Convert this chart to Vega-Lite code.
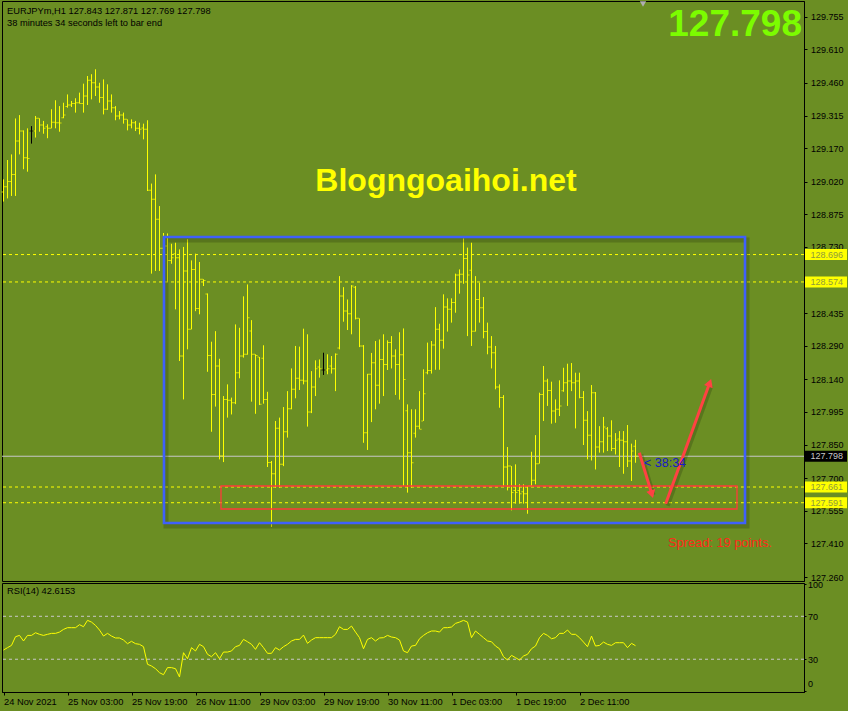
{
  "$schema": "https://vega.github.io/schema/vega-lite/v6.json",
  "background": "#6B8E23",
  "padding": {"left": 0, "top": 0, "right": 0, "bottom": 4},
  "spacing": 2,
  "bounds": "flush",
  "config": {
    "view": {"stroke": "#000000", "strokeWidth": 1, "fill": "#6B8E23"},
    "font": "Liberation Sans",
    "axis": {"grid": false, "domainColor": "#000000", "tickColor": "#000000", "labelColor": "#000000", "labelFont": "Liberation Sans", "titleColor": "#000000", "labelOverlap": false}
  },
  "datasets": {
    "bars": [
      {"i":0,"o":128.975,"h":129.031,"l":128.932,"c":128.998},
      {"i":1,"o":128.998,"h":129.117,"l":128.946,"c":129.021},
      {"i":2,"o":129.021,"h":129.142,"l":128.957,"c":129.053},
      {"i":3,"o":129.053,"h":129.302,"l":128.957,"c":129.202},
      {"i":4,"o":129.202,"h":129.317,"l":129.142,"c":129.246},
      {"i":5,"o":129.246,"h":129.249,"l":129.076,"c":129.127},
      {"i":6,"o":129.127,"h":129.258,"l":129.065,"c":129.124},
      {"i":7,"o":129.246,"h":129.268,"l":129.19,"c":129.246},
      {"i":8,"o":129.246,"h":129.313,"l":129.217,"c":129.303},
      {"i":9,"o":129.303,"h":129.303,"l":129.243,"c":129.273},
      {"i":10,"o":129.273,"h":129.291,"l":129.234,"c":129.258},
      {"i":11,"o":129.265,"h":129.276,"l":129.214,"c":129.258},
      {"i":12,"o":129.258,"h":129.343,"l":129.258,"c":129.285},
      {"i":13,"o":129.285,"h":129.383,"l":129.258,"c":129.283},
      {"i":14,"o":129.283,"h":129.357,"l":129.243,"c":129.282},
      {"i":15,"o":129.305,"h":129.372,"l":129.303,"c":129.317},
      {"i":16,"o":129.355,"h":129.409,"l":129.35,"c":129.362},
      {"i":17,"o":129.362,"h":129.38,"l":129.353,"c":129.369},
      {"i":18,"o":129.369,"h":129.392,"l":129.328,"c":129.372},
      {"i":19,"o":129.372,"h":129.417,"l":129.368,"c":129.369},
      {"i":20,"o":129.369,"h":129.457,"l":129.328,"c":129.402},
      {"i":21,"o":129.402,"h":129.491,"l":129.362,"c":129.472},
      {"i":22,"o":129.472,"h":129.499,"l":129.387,"c":129.461},
      {"i":23,"o":129.461,"h":129.521,"l":129.402,"c":129.442},
      {"i":24,"o":129.442,"h":129.461,"l":129.372,"c":129.395},
      {"i":25,"o":129.395,"h":129.476,"l":129.32,"c":129.343},
      {"i":26,"o":129.343,"h":129.454,"l":129.34,"c":129.38},
      {"i":27,"o":129.38,"h":129.409,"l":129.328,"c":129.35},
      {"i":28,"o":129.35,"h":129.357,"l":129.294,"c":129.313},
      {"i":29,"o":129.313,"h":129.335,"l":129.298,"c":129.317},
      {"i":30,"o":129.317,"h":129.328,"l":129.279,"c":129.298},
      {"i":31,"o":129.298,"h":129.298,"l":129.249,"c":129.273},
      {"i":32,"o":129.273,"h":129.298,"l":129.258,"c":129.283},
      {"i":33,"o":129.283,"h":129.291,"l":129.246,"c":129.258},
      {"i":34,"o":129.258,"h":129.283,"l":129.231,"c":129.254},
      {"i":35,"o":129.26,"h":129.279,"l":129.209,"c":129.254},
      {"i":36,"o":129.254,"h":129.294,"l":128.979,"c":128.982},
      {"i":37,"o":128.982,"h":129.012,"l":128.611,"c":128.942},
      {"i":38,"o":128.942,"h":129.053,"l":128.623,"c":128.853},
      {"i":39,"o":128.853,"h":128.912,"l":128.623,"c":128.724},
      {"i":40,"o":128.724,"h":128.792,"l":128.571,"c":128.734},
      {"i":41,"o":128.734,"h":128.79,"l":128.574,"c":128.67},
      {"i":42,"o":128.67,"h":128.744,"l":128.655,"c":128.682},
      {"i":43,"o":128.7,"h":128.749,"l":128.452,"c":128.682},
      {"i":44,"o":128.682,"h":128.719,"l":128.222,"c":128.244},
      {"i":45,"o":128.244,"h":128.73,"l":128.051,"c":128.623},
      {"i":46,"o":128.623,"h":128.764,"l":128.274,"c":128.363},
      {"i":47,"o":128.363,"h":128.67,"l":128.363,"c":128.63},
      {"i":48,"o":128.63,"h":128.7,"l":128.444,"c":128.456},
      {"i":49,"o":128.456,"h":128.663,"l":128.43,"c":128.586},
      {"i":50,"o":128.586,"h":128.586,"l":128.556,"c":128.581},
      {"i":51,"o":128.52,"h":128.523,"l":128.174,"c":128.247},
      {"i":52,"o":128.247,"h":128.308,"l":127.907,"c":128.073},
      {"i":53,"o":128.073,"h":128.355,"l":128.019,"c":128.2},
      {"i":54,"o":128.2,"h":128.232,"l":127.784,"c":127.799},
      {"i":55,"o":127.799,"h":128.066,"l":127.772,"c":128.051},
      {"i":56,"o":128.051,"h":128.118,"l":127.97,"c":128.047},
      {"i":57,"o":128.047,"h":128.059,"l":127.984,"c":128.036},
      {"i":58,"o":128.036,"h":128.385,"l":128.03,"c":128.17},
      {"i":59,"o":128.17,"h":128.37,"l":128.145,"c":128.244},
      {"i":60,"o":128.244,"h":128.51,"l":128.237,"c":128.252},
      {"i":61,"o":128.252,"h":128.563,"l":128.25,"c":128.415},
      {"i":62,"o":128.356,"h":128.404,"l":128.041,"c":128.252},
      {"i":63,"o":128.252,"h":128.252,"l":127.987,"c":128.247},
      {"i":64,"o":128.24,"h":128.24,"l":128.026,"c":128.029},
      {"i":65,"o":128.234,"h":128.292,"l":128.032,"c":128.051},
      {"i":66,"o":128.051,"h":128.085,"l":127.75,"c":127.77},
      {"i":67,"o":127.77,"h":127.777,"l":127.483,"c":127.72},
      {"i":68,"o":127.72,"h":127.955,"l":127.658,"c":127.923},
      {"i":69,"o":127.923,"h":127.97,"l":127.658,"c":127.762},
      {"i":70,"o":127.762,"h":128.017,"l":127.754,"c":127.907},
      {"i":71,"o":127.907,"h":128.088,"l":127.881,"c":128.01},
      {"i":72,"o":128.01,"h":128.189,"l":128.007,"c":128.096},
      {"i":73,"o":128.096,"h":128.289,"l":128.056,"c":128.145},
      {"i":74,"o":128.145,"h":128.286,"l":128.093,"c":128.136},
      {"i":75,"o":128.136,"h":128.366,"l":128.118,"c":128.133},
      {"i":76,"o":128.133,"h":128.341,"l":127.93,"c":127.995},
      {"i":77,"o":127.995,"h":128.177,"l":127.99,"c":128.106},
      {"i":78,"o":128.106,"h":128.225,"l":128.066,"c":128.188},
      {"i":79,"o":128.195,"h":128.229,"l":128.148,"c":128.188},
      {"i":80,"o":128.182,"h":128.259,"l":128.16,"c":128.182},
      {"i":81,"o":128.182,"h":128.252,"l":128.163,"c":128.188},
      {"i":82,"o":128.2,"h":128.244,"l":128.166,"c":128.188},
      {"i":83,"o":128.188,"h":128.256,"l":128.088,"c":128.252},
      {"i":84,"o":128.28,"h":128.6,"l":128.274,"c":128.511},
      {"i":85,"o":128.511,"h":128.551,"l":128.397,"c":128.445},
      {"i":86,"o":128.445,"h":128.496,"l":128.36,"c":128.433},
      {"i":87,"o":128.433,"h":128.56,"l":128.341,"c":128.556},
      {"i":88,"o":128.55,"h":128.556,"l":128.407,"c":128.412},
      {"i":89,"o":128.412,"h":128.412,"l":128.284,"c":128.289},
      {"i":90,"o":128.289,"h":128.293,"l":127.858,"c":127.903},
      {"i":91,"o":127.903,"h":128.165,"l":127.826,"c":128.163},
      {"i":92,"o":128.163,"h":128.258,"l":127.95,"c":128.214},
      {"i":93,"o":128.214,"h":128.311,"l":128.007,"c":128.114},
      {"i":94,"o":128.114,"h":128.318,"l":128.032,"c":128.229},
      {"i":95,"o":128.229,"h":128.341,"l":128.066,"c":128.207},
      {"i":96,"o":128.207,"h":128.314,"l":128.182,"c":128.304},
      {"i":97,"o":128.304,"h":128.333,"l":128.189,"c":128.244},
      {"i":98,"o":128.244,"h":128.274,"l":128.071,"c":128.207},
      {"i":99,"o":128.207,"h":128.35,"l":128.05,"c":128.25},
      {"i":100,"o":128.25,"h":128.367,"l":127.665,"c":128.14},
      {"i":101,"o":128.0,"h":128.029,"l":127.636,"c":127.814},
      {"i":102,"o":127.814,"h":128.007,"l":127.658,"c":127.769},
      {"i":103,"o":127.9,"h":128.007,"l":127.881,"c":127.932},
      {"i":104,"o":127.932,"h":128.088,"l":127.918,"c":127.918},
      {"i":105,"o":127.955,"h":128.185,"l":127.955,"c":128.076},
      {"i":106,"o":128.17,"h":128.304,"l":128.163,"c":128.18},
      {"i":107,"o":128.18,"h":128.311,"l":128.166,"c":128.293},
      {"i":108,"o":128.293,"h":128.462,"l":128.183,"c":128.363},
      {"i":109,"o":128.363,"h":128.388,"l":128.183,"c":128.314},
      {"i":110,"o":128.314,"h":128.519,"l":128.277,"c":128.462},
      {"i":111,"o":128.462,"h":128.501,"l":128.353,"c":128.452},
      {"i":112,"o":128.452,"h":128.501,"l":128.393,"c":128.482},
      {"i":113,"o":128.482,"h":128.611,"l":128.437,"c":128.605},
      {"i":114,"o":128.605,"h":128.63,"l":128.522,"c":128.608},
      {"i":115,"o":128.608,"h":128.768,"l":128.566,"c":128.679},
      {"i":116,"o":128.679,"h":128.727,"l":128.333,"c":128.605},
      {"i":117,"o":128.626,"h":128.749,"l":128.289,"c":128.355},
      {"i":118,"o":128.355,"h":128.6,"l":128.353,"c":128.496},
      {"i":119,"o":128.496,"h":128.571,"l":128.393,"c":128.459},
      {"i":120,"o":128.459,"h":128.507,"l":128.323,"c":128.353},
      {"i":121,"o":128.353,"h":128.393,"l":128.252,"c":128.284},
      {"i":122,"o":128.284,"h":128.333,"l":128.189,"c":128.259},
      {"i":123,"o":128.259,"h":128.289,"l":128.096,"c":128.106},
      {"i":124,"o":128.106,"h":128.118,"l":128.014,"c":128.059},
      {"i":125,"o":128.059,"h":128.07,"l":127.665,"c":127.75},
      {"i":126,"o":127.75,"h":127.839,"l":127.646,"c":127.754},
      {"i":127,"o":127.754,"h":127.754,"l":127.557,"c":127.636},
      {"i":128,"o":127.645,"h":127.762,"l":127.587,"c":127.636},
      {"i":129,"o":127.645,"h":127.673,"l":127.587,"c":127.631},
      {"i":130,"o":127.64,"h":127.673,"l":127.587,"c":127.631},
      {"i":131,"o":127.631,"h":127.665,"l":127.542,"c":127.665},
      {"i":132,"o":127.665,"h":127.818,"l":127.665,"c":127.691},
      {"i":133,"o":127.691,"h":127.892,"l":127.673,"c":127.765},
      {"i":134,"o":127.765,"h":128.081,"l":127.765,"c":128.073},
      {"i":135,"o":128.073,"h":128.2,"l":127.955,"c":128.133},
      {"i":136,"o":128.133,"h":128.143,"l":128.022,"c":128.091},
      {"i":137,"o":128.091,"h":128.13,"l":127.943,"c":127.999},
      {"i":138,"o":127.999,"h":128.051,"l":127.947,"c":128.007},
      {"i":139,"o":128.007,"h":128.136,"l":127.977,"c":128.022},
      {"i":140,"o":128.09,"h":128.192,"l":128.085,"c":128.125},
      {"i":141,"o":128.125,"h":128.21,"l":128.022,"c":128.133},
      {"i":142,"o":128.133,"h":128.213,"l":128.088,"c":128.125},
      {"i":143,"o":128.125,"h":128.17,"l":127.922,"c":128.133},
      {"i":144,"o":128.133,"h":128.17,"l":128.056,"c":128.059},
      {"i":145,"o":128.059,"h":128.088,"l":127.848,"c":127.958},
      {"i":146,"o":127.958,"h":127.999,"l":127.784,"c":127.892},
      {"i":147,"o":127.892,"h":128.115,"l":127.779,"c":128.081},
      {"i":148,"o":128.081,"h":128.084,"l":127.739,"c":127.839},
      {"i":149,"o":127.839,"h":127.932,"l":127.814,"c":127.863},
      {"i":150,"o":127.863,"h":127.973,"l":127.814,"c":127.928},
      {"i":151,"o":127.92,"h":127.928,"l":127.821,"c":127.888},
      {"i":152,"o":127.888,"h":127.958,"l":127.821,"c":127.833},
      {"i":153,"o":127.833,"h":127.901,"l":127.806,"c":127.869},
      {"i":154,"o":127.875,"h":127.91,"l":127.75,"c":127.869},
      {"i":155,"o":127.869,"h":127.91,"l":127.72,"c":127.863},
      {"i":156,"o":127.863,"h":127.937,"l":127.75,"c":127.777},
      {"i":157,"o":127.777,"h":127.854,"l":127.688,"c":127.821},
      {"i":158,"o":127.843,"h":127.871,"l":127.769,"c":127.798}
    ],
    "rsi": [
      {"i":0,"v":38.6},{"i":1,"v":40.8},{"i":2,"v":42.9},{"i":3,"v":51.0},{"i":4,"v":52.2},{"i":5,"v":47.0},{"i":6,"v":52.2},{"i":7,"v":52.2},{"i":8,"v":54.7},{"i":9,"v":53.2},
      {"i":10,"v":52.2},{"i":11,"v":53.2},{"i":12,"v":54.1},{"i":13,"v":54.1},{"i":14,"v":55.3},{"i":15,"v":57.8},{"i":16,"v":59.4},{"i":17,"v":59.4},{"i":18,"v":59.4},{"i":19,"v":62.2},
      {"i":20,"v":60.3},{"i":21,"v":66.2},{"i":22,"v":64.6},{"i":23,"v":61.5},{"i":24,"v":57.2},{"i":25,"v":51.6},{"i":26,"v":54.1},{"i":27,"v":51.6},{"i":28,"v":49.8},{"i":29,"v":49.8},
      {"i":30,"v":47.9},{"i":31,"v":44.5},{"i":32,"v":46.7},{"i":33,"v":44.5},{"i":34,"v":43.9},{"i":35,"v":41.7},{"i":36,"v":25.3},{"i":37,"v":23.7},{"i":38,"v":21.2},{"i":39,"v":17.5},
      {"i":40,"v":15.6},{"i":41,"v":22.2},{"i":42,"v":22.2},{"i":43,"v":21.2},{"i":44,"v":13.5},{"i":45,"v":36.1},{"i":46,"v":30.5},{"i":47,"v":40.8},{"i":48,"v":37.7},{"i":49,"v":43.9},
      {"i":50,"v":41.7},{"i":51,"v":34.6},{"i":52,"v":32.4},{"i":53,"v":36.1},{"i":54,"v":30.5},{"i":55,"v":36.7},{"i":56,"v":36.7},{"i":57,"v":37.7},{"i":58,"v":41.7},{"i":59,"v":42.9},
      {"i":60,"v":48.5},{"i":61,"v":46.3},{"i":62,"v":43.9},{"i":63,"v":39.2},{"i":64,"v":45.4},{"i":65,"v":40.8},{"i":66,"v":35.5},{"i":67,"v":35.5},{"i":68,"v":40.8},{"i":69,"v":38.6},
      {"i":70,"v":41.7},{"i":71,"v":43.9},{"i":72,"v":47.0},{"i":73,"v":48.5},{"i":74,"v":48.5},{"i":75,"v":52.5},{"i":76,"v":44.8},{"i":77,"v":47.9},{"i":78,"v":50.1},{"i":79,"v":50.1},
      {"i":80,"v":50.1},{"i":81,"v":50.1},{"i":82,"v":50.1},{"i":83,"v":53.2},{"i":84,"v":60.3},{"i":85,"v":57.8},{"i":86,"v":57.8},{"i":87,"v":60.9},{"i":88,"v":55.3},{"i":89,"v":50.1},
      {"i":90,"v":39.8},{"i":91,"v":48.5},{"i":92,"v":50.1},{"i":93,"v":47.0},{"i":94,"v":49.8},{"i":95,"v":50.1},{"i":96,"v":52.2},{"i":97,"v":50.7},{"i":98,"v":50.1},{"i":99,"v":47.9},
      {"i":100,"v":37.7},{"i":101,"v":36.1},{"i":102,"v":42.3},{"i":103,"v":42.9},{"i":104,"v":49.1},{"i":105,"v":52.2},{"i":106,"v":54.7},{"i":107,"v":56.3},{"i":108,"v":56.3},{"i":109,"v":55.3},
      {"i":110,"v":59.4},{"i":111,"v":59.4},{"i":112,"v":60.0},{"i":113,"v":63.4},{"i":114,"v":64.6},{"i":115,"v":66.2},{"i":116,"v":64.6},{"i":117,"v":50.1},{"i":118,"v":56.3},{"i":119,"v":53.2},
      {"i":120,"v":50.1},{"i":121,"v":47.0},{"i":122,"v":46.3},{"i":123,"v":42.3},{"i":124,"v":39.8},{"i":125,"v":32.4},{"i":126,"v":29.3},{"i":127,"v":33.6},{"i":128,"v":31.5},{"i":129,"v":29.3},
      {"i":130,"v":33.0},{"i":131,"v":34.6},{"i":132,"v":39.8},{"i":133,"v":42.3},{"i":134,"v":50.1},{"i":135,"v":54.1},{"i":136,"v":52.2},{"i":137,"v":49.1},{"i":138,"v":50.1},{"i":139,"v":54.1},
      {"i":140,"v":54.1},{"i":141,"v":57.2},{"i":142,"v":53.2},{"i":143,"v":53.2},{"i":144,"v":50.1},{"i":145,"v":46.0},{"i":146,"v":41.7},{"i":147,"v":51.6},{"i":148,"v":42.3},{"i":149,"v":42.9},
      {"i":150,"v":46.0},{"i":151,"v":43.9},{"i":152,"v":42.9},{"i":153,"v":45.4},{"i":154,"v":45.4},{"i":155,"v":45.4},{"i":156,"v":40.8},{"i":157,"v":44.8},{"i":158,"v":42.6153}
    ],
    "levels": [{"p":128.696},{"p":128.574},{"p":127.661},{"p":127.591}]
  },
  "vconcat": [
    {
      "width": 802,
      "height": 580,
      "resolve": {"axis": {"x": "independent", "y": "independent"}},
      "layer": [
        {
          "data": {"name": "levels"},
          "mark": {"type": "rule", "color": "#FFFF00", "strokeDash": [3, 3], "strokeWidth": 1},
          "encoding": {
            "y": {"field": "p", "type": "quantitative", "title": null,
              "scale": {"domain": [127.2425, 129.825], "nice": false, "zero": false},
              "axis": {"orient": "right", "title": null, "format": ".3f", "labelFontSize": 9, "tickSize": 3, "labelPadding": 3.5, "labelOverlap": false,
                "values": [129.755, 129.61, 129.46, 129.315, 129.17, 129.02, 128.875, 128.73, 128.435, 128.29, 128.14, 127.995, 127.85, 127.7, 127.555, 127.41, 127.26]}}
          }
        },
        {
          "data": {"values": [{"p": 127.798}]},
          "mark": {"type": "rule", "color": "#C8C8C8", "strokeWidth": 1},
          "encoding": {
            "y": {"field": "p", "type": "quantitative", "title": null, "axis": null}
          }
        },
        {
          "data": {"name": "bars"},
          "mark": {"type": "rule", "strokeWidth": 1},
          "encoding": {
            "x": {"field": "i", "type": "quantitative", "axis": null, "title": null, "scale": {"domain": [-0.375, 200.125], "nice": false, "zero": false}},
            "y": {"field": "l", "type": "quantitative", "title": null, "axis": null},
            "y2": {"field": "h"},
            "color": {"condition": {"test": "datum.o == datum.c", "value": "#000000"}, "value": "#FFFF00"}
          }
        },
        {
          "data": {"name": "bars"},
          "mark": {"type": "tick", "orient": "horizontal", "size": 1.6, "thickness": 1, "xOffset": -1.3},
          "encoding": {
            "x": {"field": "i", "type": "quantitative", "axis": null, "title": null},
            "y": {"field": "o", "type": "quantitative", "title": null, "axis": null},
            "color": {"condition": {"test": "datum.o == datum.c", "value": "#000000"}, "value": "#FFFF00"}
          }
        },
        {
          "data": {"name": "bars"},
          "mark": {"type": "tick", "orient": "horizontal", "size": 1.6, "thickness": 1, "xOffset": 1.3},
          "encoding": {
            "x": {"field": "i", "type": "quantitative", "axis": null, "title": null},
            "y": {"field": "c", "type": "quantitative", "title": null, "axis": null},
            "color": {"condition": {"test": "datum.o == datum.c", "value": "#000000"}, "value": "#FFFF00"}
          }
        },
        {
          "data": {"values": [{"x1": 40.125, "x2": 185.375, "y1": 127.5007, "y2": 128.7742}]},
          "mark": {"type": "rect", "fill": "transparent", "stroke": "#1f2a0a", "strokeOpacity": 0.25, "strokeWidth": 5, "xOffset": 2, "x2Offset": 2, "yOffset": 3, "y2Offset": 3},
          "encoding": {
            "x": {"field": "x1", "type": "quantitative", "axis": null, "title": null}, "x2": {"field": "x2"},
            "y": {"field": "y1", "type": "quantitative", "title": null, "axis": null}, "y2": {"field": "y2"}
          }
        },
        {
          "data": {"values": [{"x1": 40.125, "x2": 185.375, "y1": 127.5007, "y2": 128.7742}]},
          "mark": {"type": "rect", "fill": "transparent", "stroke": "#3F60FA", "strokeWidth": 2.6},
          "encoding": {
            "x": {"field": "x1", "type": "quantitative", "axis": null, "title": null}, "x2": {"field": "x2"},
            "y": {"field": "y1", "type": "quantitative", "title": null, "axis": null}, "y2": {"field": "y2"}
          }
        },
        {
          "data": {"values": [{"x1": 54.375, "x2": 183.375, "y1": 127.5631, "y2": 127.6655}]},
          "mark": {"type": "rect", "fill": "transparent", "stroke": "#FF3A3A", "strokeWidth": 1.3},
          "encoding": {
            "x": {"field": "x1", "type": "quantitative", "axis": null, "title": null}, "x2": {"field": "x2"},
            "y": {"field": "y1", "type": "quantitative", "title": null, "axis": null}, "y2": {"field": "y2"}
          }
        },
        {
          "data": {"values": [{"x1": 158.95, "y1": 127.8138, "x2": 162.0, "y2": 127.6347}, {"x1": 165.55, "y1": 127.5867, "x2": 176.45, "y2": 128.1192}]},
          "mark": {"type": "rule", "color": "#1f2a0a", "opacity": 0.25, "strokeWidth": 4, "xOffset": 2, "x2Offset": 2, "yOffset": 2, "y2Offset": 2},
          "encoding": {
            "x": {"field": "x1", "type": "quantitative", "axis": null, "title": null}, "x2": {"field": "x2"},
            "y": {"field": "y1", "type": "quantitative", "title": null, "axis": null}, "y2": {"field": "y2"}
          }
        },
        {
          "data": {"values": [{"x1": 158.95, "y1": 127.8138, "x2": 162.0, "y2": 127.6347}, {"x1": 165.55, "y1": 127.5867, "x2": 176.45, "y2": 128.1192}]},
          "mark": {"type": "rule", "color": "#FF4242", "strokeWidth": 3},
          "encoding": {
            "x": {"field": "x1", "type": "quantitative", "axis": null, "title": null}, "x2": {"field": "x2"},
            "y": {"field": "y1", "type": "quantitative", "title": null, "axis": null}, "y2": {"field": "y2"}
          }
        },
        {
          "data": {"values": [{"x": 162.0, "y": 127.6347}]},
          "mark": {"type": "point", "shape": "triangle", "filled": true, "size": 85, "angle": 163.5, "color": "#FF4242", "opacity": 1, "strokeWidth": 0},
          "encoding": {
            "x": {"field": "x", "type": "quantitative", "axis": null, "title": null},
            "y": {"field": "y", "type": "quantitative", "title": null, "axis": null}
          }
        },
        {
          "data": {"values": [{"x": 176.45, "y": 128.1192}]},
          "mark": {"type": "point", "shape": "triangle", "filled": true, "size": 85, "angle": 20.1, "color": "#FF4242", "opacity": 1, "strokeWidth": 0},
          "encoding": {
            "x": {"field": "x", "type": "quantitative", "axis": null, "title": null},
            "y": {"field": "y", "type": "quantitative", "title": null, "axis": null}
          }
        },
        {
          "data": {"values": [{"x": 159.875, "y": 129.8116}]},
          "mark": {"type": "point", "shape": "triangle-down", "filled": true, "size": 40, "color": "#B0B0B0", "opacity": 1, "strokeWidth": 0},
          "encoding": {
            "x": {"field": "x", "type": "quantitative", "axis": null, "title": null},
            "y": {"field": "y", "type": "quantitative", "title": null, "axis": null}
          }
        },
        {
          "data": {"values": [{"x": 0.875, "y": 129.7805, "t": "EURJPYm,H1  127.843 127.871 127.769 127.798"}, {"x": 0.875, "y": 129.727, "t": "38 minutes 34 seconds left to bar end"}]},
          "mark": {"type": "text", "align": "left", "baseline": "middle", "fontSize": 9.3, "color": "#000000"},
          "encoding": {
            "x": {"field": "x", "type": "quantitative", "axis": null, "title": null},
            "y": {"field": "y", "type": "quantitative", "title": null, "axis": null},
            "text": {"field": "t", "type": "nominal"}
          }
        },
        {
          "data": {"values": [{"x": 199.625, "y": 129.718, "t": "127.798"}]},
          "mark": {"type": "text", "align": "right", "baseline": "middle", "fontSize": 37, "fontWeight": "bold", "color": "#7CFC00"},
          "encoding": {
            "x": {"field": "x", "type": "quantitative", "axis": null, "title": null},
            "y": {"field": "y", "type": "quantitative", "title": null, "axis": null},
            "text": {"field": "t", "type": "nominal"}
          }
        },
        {
          "data": {"values": [{"x": 110.625, "y": 129.0235, "t": "Blogngoaihoi.net"}]},
          "mark": {"type": "text", "align": "center", "baseline": "middle", "fontSize": 32, "fontWeight": "bold", "color": "#FFFF00"},
          "encoding": {
            "x": {"field": "x", "type": "quantitative", "axis": null, "title": null},
            "y": {"field": "y", "type": "quantitative", "title": null, "axis": null},
            "text": {"field": "t", "type": "nominal"}
          }
        },
        {
          "data": {"values": [{"x": 166.125, "y": 127.4117, "t": "Spread: 19 points."}]},
          "mark": {"type": "text", "align": "left", "baseline": "middle", "fontSize": 12.8, "color": "#FF2A1A"},
          "encoding": {
            "x": {"field": "x", "type": "quantitative", "axis": null, "title": null},
            "y": {"field": "y", "type": "quantitative", "title": null, "axis": null},
            "text": {"field": "t", "type": "nominal"}
          }
        },
        {
          "data": {"values": [{"x": 160.125, "y": 127.7701, "t": "< 38:34"}]},
          "mark": {"type": "text", "align": "left", "baseline": "middle", "fontSize": 12.5, "color": "#1818C8"},
          "encoding": {
            "x": {"field": "x", "type": "quantitative", "axis": null, "title": null},
            "y": {"field": "y", "type": "quantitative", "title": null, "axis": null},
            "text": {"field": "t", "type": "nominal"}
          }
        },
        {
          "data": {"name": "levels"},
          "mark": {"type": "tick", "orient": "horizontal", "size": 42, "thickness": 11, "xOffset": 22, "color": "#FFFF00", "opacity": 1},
          "encoding": {
            "x": {"value": "width"},
            "y": {"field": "p", "type": "quantitative", "title": null, "axis": null}
          }
        },
        {
          "data": {"name": "levels"},
          "mark": {"type": "text", "align": "left", "baseline": "middle", "fontSize": 9, "xOffset": 6.5, "color": "#8F9A3C"},
          "encoding": {
            "x": {"value": "width"},
            "y": {"field": "p", "type": "quantitative", "title": null, "axis": null},
            "text": {"field": "p", "type": "quantitative", "format": ".3f"}
          }
        },
        {
          "data": {"values": [{"p": 127.798}]},
          "mark": {"type": "tick", "orient": "horizontal", "size": 42, "thickness": 11, "xOffset": 22, "color": "#000000", "opacity": 1},
          "encoding": {
            "x": {"value": "width"},
            "y": {"field": "p", "type": "quantitative", "title": null, "axis": null}
          }
        },
        {
          "data": {"values": [{"p": 127.798}]},
          "mark": {"type": "text", "align": "left", "baseline": "middle", "fontSize": 9, "xOffset": 6.5, "color": "#C8C8C8"},
          "encoding": {
            "x": {"value": "width"},
            "y": {"field": "p", "type": "quantitative", "title": null, "axis": null},
            "text": {"field": "p", "type": "quantitative", "format": ".3f"}
          }
        }
      ]
    },
    {
      "width": 802,
      "height": 109,
      "resolve": {"axis": {"x": "independent", "y": "independent"}},
      "layer": [
        {
          "data": {"values": [{"lv": 70}, {"lv": 30}]},
          "mark": {"type": "rule", "color": "#C8C8C8", "strokeDash": [3, 3], "strokeWidth": 1},
          "encoding": {
            "y": {"field": "lv", "type": "quantitative", "title": null,
              "scale": {"domain": [-0.5, 101], "nice": false, "zero": false},
              "axis": {"orient": "right", "title": null, "values": [0, 30, 70, 100], "labelFlush": true, "labelFlushOffset": -2.5, "labelOverlap": false, "labelFontSize": 9, "tickSize": 2, "labelPadding": 1.5}}
          }
        },
        {
          "data": {"name": "rsi"},
          "mark": {"type": "line", "color": "#FFFF00", "strokeWidth": 1},
          "encoding": {
            "x": {"field": "i", "type": "quantitative", "title": null,
              "scale": {"domain": [-0.375, 200.125], "nice": false, "zero": false},
              "axis": {"title": null, "values": [0, 16, 32, 48, 64, 80, 96, 112, 128, 144],
                "labelExpr": "['24 Nov 2021','25 Nov 03:00','25 Nov 19:00','26 Nov 11:00','29 Nov 03:00','29 Nov 19:00','30 Nov 11:00','1 Dec 03:00','1 Dec 19:00','2 Dec 11:00'][round(datum.value / 16)]",
                "labelAlign": "left", "labelFontSize": 9.3, "tickSize": 3, "labelPadding": 2, "labelOverlap": false, "labelFlush": false}},
            "y": {"field": "v", "type": "quantitative", "title": null, "axis": null}
          }
        },
        {
          "data": {"values": [{"x": 0.875, "y": 93.5, "t": "RSI(14) 42.6153"}]},
          "mark": {"type": "text", "align": "left", "baseline": "middle", "fontSize": 9.3, "color": "#000000"},
          "encoding": {
            "x": {"field": "x", "type": "quantitative", "title": null, "axis": null},
            "y": {"field": "y", "type": "quantitative", "title": null, "axis": null},
            "text": {"field": "t", "type": "nominal"}
          }
        }
      ]
    }
  ]
}
